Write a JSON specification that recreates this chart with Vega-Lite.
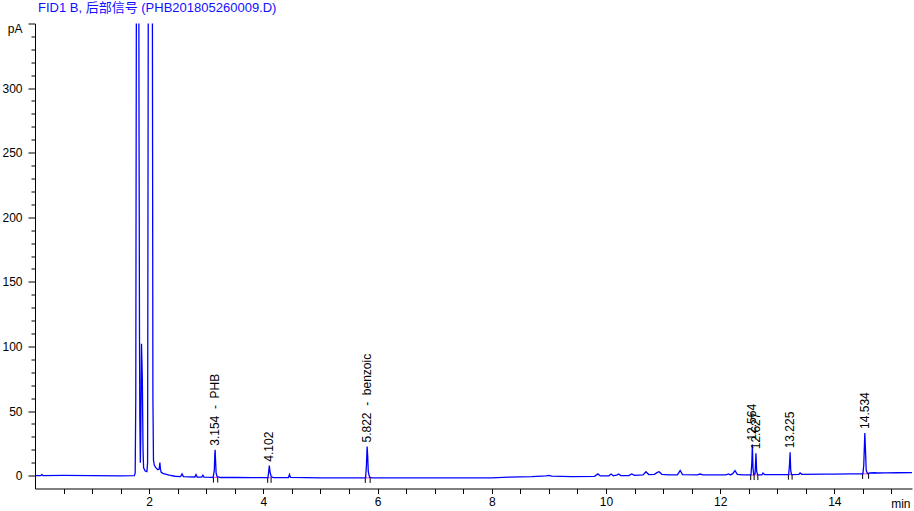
{
  "$schema": "https://vega.github.io/schema/vega-lite/v6.json",
  "autosize": "none",
  "padding": {"left": 35, "top": 23.5, "right": 2, "bottom": 22.5},
  "width": 877,
  "height": 465,
  "background": "white",
  "config": {
    "view": {"stroke": null},
    "font": "Liberation Sans, Noto Sans CJK SC",
    "axis": {"grid": false, "domainColor": "#000000", "tickColor": "#000000", "labelColor": "#000000", "labelFont": "Liberation Sans", "labelFontSize": 12, "titleFont": "Liberation Sans", "titleFontWeight": "normal", "titleFontSize": 12, "titleColor": "#000000", "labelOverlap": false, "labelFlush": false}
  },
  "title": {"text": "FID1 B, 后部信号 (PHB201805260009.D)", "anchor": "start", "frame": "group", "font": "Liberation Sans, Noto Sans CJK SC", "fontSize": 13, "fontWeight": "normal", "color": "#1010ff", "offset": 8, "dx": 3},
  "datasets": {
    "trace": [
      {"t": 0.0, "v": 0}, {"t": 0.1, "v": 0}, {"t": 0.12, "v": 0.8}, {"t": 0.14, "v": 0}, {"t": 0.5, "v": 0.1}, {"t": 1.0, "v": 0}, {"t": 1.5, "v": -0.2}, {"t": 1.74, "v": 0},
      {"t": 1.755, "v": 2}, {"t": 1.765, "v": 60}, {"t": 1.78, "v": 500}, {"t": 1.8, "v": 900}, {"t": 1.815, "v": 500}, {"t": 1.822, "v": 265}, {"t": 1.826, "v": 200}, {"t": 1.83, "v": 110}, {"t": 1.836, "v": 45}, {"t": 1.845, "v": 10},
      {"t": 1.852, "v": 30}, {"t": 1.865, "v": 102}, {"t": 1.872, "v": 90}, {"t": 1.88, "v": 74}, {"t": 1.892, "v": 20}, {"t": 1.902, "v": 6}, {"t": 1.93, "v": 3.5}, {"t": 1.96, "v": 3},
      {"t": 1.972, "v": 10}, {"t": 1.985, "v": 400}, {"t": 2.02, "v": 1000}, {"t": 2.055, "v": 400}, {"t": 2.065, "v": 60}, {"t": 2.075, "v": 12}, {"t": 2.09, "v": 8}, {"t": 2.12, "v": 6}, {"t": 2.15, "v": 4.5}, {"t": 2.175, "v": 5}, {"t": 2.187, "v": 10}, {"t": 2.197, "v": 5}, {"t": 2.21, "v": 2.5},
      {"t": 2.25, "v": 1.5}, {"t": 2.35, "v": 0.3}, {"t": 2.45, "v": -0.5}, {"t": 2.55, "v": -0.8}, {"t": 2.575, "v": 1.3}, {"t": 2.6, "v": -0.8}, {"t": 2.7, "v": -1.0}, {"t": 2.8, "v": -1.1}, {"t": 2.82, "v": 0.8}, {"t": 2.84, "v": -1.1}, {"t": 2.92, "v": -1.2}, {"t": 2.94, "v": 0.2}, {"t": 2.96, "v": -1.2},
      {"t": 3.12, "v": -1.4}, {"t": 3.14, "v": 4}, {"t": 3.15, "v": 17}, {"t": 3.155, "v": 20}, {"t": 3.162, "v": 12}, {"t": 3.172, "v": 2}, {"t": 3.19, "v": -0.8}, {"t": 3.25, "v": -1.5}, {"t": 3.5, "v": -1.5}, {"t": 3.8, "v": -1.6},
      {"t": 4.08, "v": -1.6}, {"t": 4.093, "v": 3}, {"t": 4.104, "v": 7.7}, {"t": 4.117, "v": 2.5}, {"t": 4.14, "v": -1}, {"t": 4.18, "v": -1.6}, {"t": 4.44, "v": -1.5}, {"t": 4.457, "v": 0.8}, {"t": 4.475, "v": -1.4}, {"t": 5.0, "v": -1.7}, {"t": 5.5, "v": -1.7},
      {"t": 5.79, "v": -1.7}, {"t": 5.805, "v": 8}, {"t": 5.817, "v": 22.5}, {"t": 5.827, "v": 15}, {"t": 5.837, "v": 3}, {"t": 5.86, "v": -1.2}, {"t": 5.9, "v": -1.7}, {"t": 6.5, "v": -1.8}, {"t": 7.0, "v": -1.8}, {"t": 7.5, "v": -1.8}, {"t": 8.0, "v": -1.8},
      {"t": 8.3, "v": -1.2}, {"t": 8.7, "v": -0.8}, {"t": 8.95, "v": -0.3}, {"t": 9.0, "v": 0.2}, {"t": 9.05, "v": -0.4}, {"t": 9.4, "v": -0.8}, {"t": 9.8, "v": -0.6}, {"t": 9.86, "v": 1.3}, {"t": 9.9, "v": -0.3},
      {"t": 10.05, "v": -0.2}, {"t": 10.09, "v": 1.2}, {"t": 10.13, "v": -0.2}, {"t": 10.2, "v": 0.6}, {"t": 10.22, "v": 1.2}, {"t": 10.26, "v": 0}, {"t": 10.4, "v": 0}, {"t": 10.45, "v": 1.3}, {"t": 10.5, "v": 0.2},
      {"t": 10.65, "v": 0.5}, {"t": 10.7, "v": 3}, {"t": 10.75, "v": 0.8}, {"t": 10.85, "v": 1}, {"t": 10.9, "v": 2.5}, {"t": 10.93, "v": 3}, {"t": 10.98, "v": 1}, {"t": 11.1, "v": 0.5}, {"t": 11.25, "v": 0.6}, {"t": 11.3, "v": 3.9}, {"t": 11.34, "v": 0.8},
      {"t": 11.6, "v": 0.5}, {"t": 11.65, "v": 1.2}, {"t": 11.7, "v": 0.5}, {"t": 12.1, "v": 0.6}, {"t": 12.15, "v": 1.3}, {"t": 12.18, "v": 0.5}, {"t": 12.22, "v": 1.5}, {"t": 12.26, "v": 3.9}, {"t": 12.3, "v": 1}, {"t": 12.4, "v": 0.6},
      {"t": 12.54, "v": 0.5}, {"t": 12.555, "v": 10}, {"t": 12.564, "v": 24}, {"t": 12.575, "v": 6}, {"t": 12.588, "v": 0.8}, {"t": 12.612, "v": 1.5}, {"t": 12.627, "v": 17.3}, {"t": 12.64, "v": 3}, {"t": 12.66, "v": 0.5},
      {"t": 12.73, "v": 0.6}, {"t": 12.75, "v": 2}, {"t": 12.78, "v": 0.7}, {"t": 13.0, "v": 0.7}, {"t": 13.2, "v": 0.8}, {"t": 13.214, "v": 8}, {"t": 13.225, "v": 18}, {"t": 13.236, "v": 4}, {"t": 13.25, "v": 0.8},
      {"t": 13.38, "v": 1}, {"t": 13.4, "v": 2}, {"t": 13.43, "v": 1}, {"t": 13.8, "v": 1.1}, {"t": 14.0, "v": 1.2}, {"t": 14.3, "v": 1.3}, {"t": 14.5, "v": 1.3},
      {"t": 14.515, "v": 8}, {"t": 14.534, "v": 33}, {"t": 14.545, "v": 20}, {"t": 14.558, "v": 4}, {"t": 14.58, "v": 1.6}, {"t": 14.62, "v": 2}, {"t": 14.7, "v": 2.2}, {"t": 14.75, "v": 2}, {"t": 14.9, "v": 2.1}, {"t": 15.1, "v": 2.2}, {"t": 15.36, "v": 2.3}
    ],
    "labels": [
      {"t": 3.154, "v": 20, "txt": "3.154\u00a0\u00a0-\u00a0\u00a0PHB"},
      {"t": 4.102, "v": 7.7, "txt": "4.102"},
      {"t": 5.822, "v": 22.5, "txt": "5.822\u00a0\u00a0-\u00a0\u00a0benzoic"},
      {"t": 12.564, "v": 24, "txt": "12.564"},
      {"t": 12.627, "v": 17.3, "txt": "12.627"},
      {"t": 13.225, "v": 18, "txt": "13.225"},
      {"t": 14.534, "v": 33, "txt": "14.534"}
    ],
    "bases": [
      {"t": 3.125, "t2": 3.2, "v": -1.4},
      {"t": 4.075, "t2": 4.135, "v": -1.6},
      {"t": 5.785, "t2": 5.87, "v": -1.7},
      {"t": 12.535, "t2": 12.66, "v": 0.5},
      {"t": 13.195, "t2": 13.26, "v": 0.8},
      {"t": 14.495, "t2": 14.6, "v": 1.4}
    ],
    "ticks": [
      {"t": 3.125, "v": -1.4, "v2": -5.4}, {"t": 3.2, "v": -1.4, "v2": -5.4},
      {"t": 4.075, "v": -1.6, "v2": -5.6}, {"t": 4.135, "v": -1.6, "v2": -5.6},
      {"t": 5.785, "v": -1.7, "v2": -5.7}, {"t": 5.87, "v": -1.7, "v2": -5.7},
      {"t": 12.535, "v": 0.5, "v2": -3.5}, {"t": 12.595, "v": 0.6, "v2": -3.4}, {"t": 12.66, "v": 0.5, "v2": -3.5},
      {"t": 13.195, "v": 0.8, "v2": -3.2}, {"t": 13.26, "v": 0.8, "v2": -3.2},
      {"t": 14.495, "v": 1.4, "v2": -2.6}, {"t": 14.6, "v": 1.5, "v2": -2.5}
    ]
  },
  "encoding": {
    "x": {"field": "t", "type": "quantitative", "scale": {"domain": [0, 15.36], "nice": false, "zero": false},
      "axis": {"values": [0.5,1,1.5,2,2.5,3,3.5,4,4.5,5,5.5,6,6.5,7,7.5,8,8.5,9,9.5,10,10.5,11,11.5,12,12.5,13,13.5,14,14.5,15],
        "labelExpr": "datum.value % 2 === 0 ? format(datum.value, 'd') : ''", "labelOverlap": false, "labelFlush": false,
        "tickSize": 5, "labelPadding": 3, "title": "min", "titleX": 875, "titleY": 19, "titleAlign": "right", "titleBaseline": "alphabetic", "titleAnchor": "end"}},
    "y": {"field": "v", "type": "quantitative", "scale": {"domain": [-10, 350], "nice": false, "zero": false},
      "axis": {"values": [0,10,20,30,40,50,60,70,80,90,100,110,120,130,140,150,160,170,180,190,200,210,220,230,240,250,260,270,280,290,300,310,320,330,340,350],
        "labelExpr": "datum.value === 350 ? 'pA' : (datum.value % 50 === 0 ? datum.label : '')", "labelOverlap": false, "labelFlush": false,
        "labelBaseline": {"condition": {"test": "datum.value === 350", "value": "top"}, "value": "middle"},
        "tickSize": {"condition": {"test": "datum.value % 50 === 0", "value": 7}, "value": 4},
        "labelPadding": 6, "title": null}}
  },
  "layer": [
    {
      "data": {"name": "bases"},
      "mark": {"type": "rule", "color": "#ff66cc", "strokeWidth": 1.2},
      "encoding": {"x2": {"field": "t2"}}
    },
    {
      "data": {"name": "ticks"},
      "mark": {"type": "rule", "color": "#000000", "strokeWidth": 1},
      "encoding": {"y2": {"field": "v2"}}
    },
    {
      "data": {"name": "trace"},
      "mark": {"type": "line", "color": "#0000ff", "strokeWidth": 1.3, "clip": true, "interpolate": "linear"},
      "encoding": {"order": {"field": "t", "type": "quantitative"}}
    },
    {
      "data": {"name": "labels"},
      "mark": {"type": "text", "angle": 270, "align": "left", "baseline": "middle", "dx": 4, "font": "Liberation Sans", "fontSize": 12, "color": "#000000"},
      "encoding": {"text": {"field": "txt"}}
    }
  ]
}
